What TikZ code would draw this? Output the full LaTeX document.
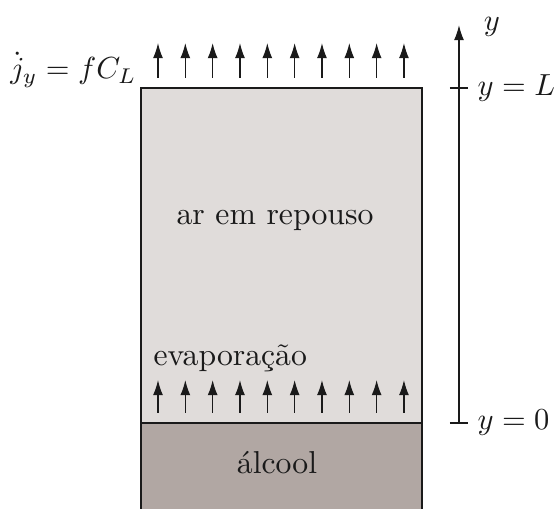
\documentclass[tikz,border=0pt]{standalone}
\usepackage{amsmath}
\usepackage{tikz}
\usetikzlibrary{arrows.meta,calc,positioning}
\definecolor{Gas}{HTML}{E0DCDA}
\definecolor{Liquid}{HTML}{B1A7A3}
\definecolor{Ink}{HTML}{1A1A1A}

\begin{document}
\begin{tikzpicture}[
      x=0.328pt, y=0.328pt,
      >={Latex[length=5pt,width=3.3pt]},
      wall/.style={draw=Ink, line width=0.65pt},
      flux/.style={->, Ink, line width=0.45pt},
      lbl/.style={inner sep=0pt, text=Ink, font=\fontsize{10.4}{12}\selectfont}
    ]
      \useasboundingbox (0,0) rectangle (557,509);

      % recipiente
      \coordinate (bl) at (141,0);
      \coordinate (il) at (141,86);
      \coordinate (ir) at (422,86);
      \coordinate (tl) at (141,421);
      \coordinate (tr) at (422,421);
      \coordinate (br) at (422,0);
      \fill[Liquid] (bl) rectangle (ir);
      \fill[Gas] (il) rectangle (tr);
      \draw[wall] (il) -- (ir);
      \draw[wall] (bl) -- (tl) -- (tr) -- (br);

      \node[lbl] (ar) at (275,289) {ar em repouso};
      \node[lbl] (alcool) at (277,46) {álcool};
      \node[lbl, anchor=west] (evap) at (153,151) {evaporação};

      % fluxos
      \foreach \i in {0,...,9} {
        \draw[flux] ({158+27.33*\i},96) -- ({158+27.33*\i},129);
        \draw[flux] ({158+27.33*\i},431) -- ({158+27.33*\i},466);
      }
      \node[lbl, anchor=base east] (fluxo) at (137,430) {$\dot{j}_y = fC_L$};

      % eixo y
      \coordinate (ax0) at (459,86);
      \coordinate (axL) at (459,421);
      \coordinate (axtop) at (459,484);
      \draw[->, Ink, line width=0.5pt] (ax0) -- (axtop);
      \draw[Ink, line width=0.5pt] ($(ax0)+(-9,0)$) -- ($(ax0)+(9,0)$);
      \draw[Ink, line width=0.5pt] ($(axL)+(-9,0)$) -- ($(axL)+(9,0)$);
      \node[lbl, anchor=west] (y0) at (477,86) {$y = 0$};
      \node[lbl, anchor=west] (yL) at (477,421) {$y = L$};
      \node[lbl] (ylab) at (492,482) {$y$};
    \end{tikzpicture}
\end{document}
